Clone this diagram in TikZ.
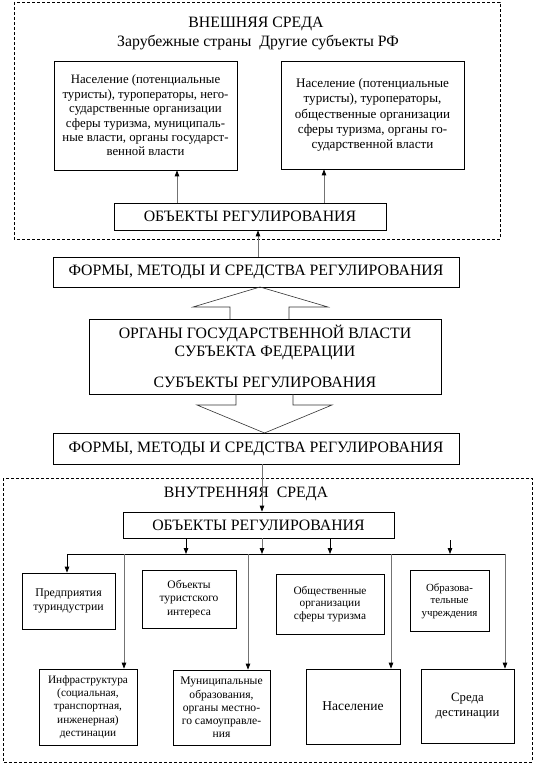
\documentclass[tikz,border=0pt]{standalone}
\usepackage{fontspec}
\setmainfont{Liberation Serif}
\usetikzlibrary{arrows.meta}
\newcommand{\fsz}[2]{\fontsize{#1}{#2}\selectfont}
\begin{document}
\begin{tikzpicture}[x=1pt,y=-1pt,
  box/.style={draw=black, line width=0.7pt, inner sep=0pt, align=center, fill=white},
  big/.style={font=\fsz{15.8}{18}},
  frame/.style={draw=black, line width=0.7pt, dash pattern=on 3pt off 2pt},
  conn/.style={draw=black!55, line width=0.8pt, -{Triangle[length=6pt,width=4.5pt,color=black]}},
  connk/.style={draw=black, line width=0.8pt, -{Triangle[length=6pt,width=4.5pt,color=black]}},
  bus/.style={draw=black, line width=0.8pt},
  blockarrow/.style={draw=black!80, line width=0.6pt}
]
\useasboundingbox (0,0) rectangle (534,768);
\fill[white] (0,0) rectangle (534,768);

% frames
\draw[frame] (14,2) rectangle (500,239);
\draw[frame] (3,478) rectangle (532,762);

% titles
\node[big, inner sep=0pt] (t1) at (256,24) {ВНЕШНЯЯ СРЕДА};
\node[big, inner sep=0pt] (t2) at (258,43) {Зарубежные страны\hspace{0.5em}Другие субъекты РФ};
\node[big, inner sep=0pt] (t3) at (246,494) {ВНУТРЕННЯЯ\hspace{0.5em}СРЕДА};

% top boxes
\node[box, font=\fsz{12.8}{14.4}, minimum width=183pt, minimum height=109pt] (popL) at (145.5,115.5)
  {Население (потенциальные\\туристы), туроператоры, него-\\сударственные организации\\сферы туризма, муниципаль-\\ные власти, органы государст-\\венной власти};
\node[box, font=\fsz{13.1}{15.2}, minimum width=183pt, minimum height=108pt] (popR) at (372.5,115)
  {Население (потенциальные\\туристы), туроператоры,\\общественные организации\\сферы туризма, органы го-\\сударственной власти};
\node[box, big, minimum width=272pt, minimum height=27pt] (objA) at (250,216.5) {ОБЪЕКТЫ РЕГУЛИРОВАНИЯ};

% middle
\node[box, big, minimum width=406pt, minimum height=30pt] (formA) at (256,272) {ФОРМЫ, МЕТОДЫ И СРЕДСТВА РЕГУЛИРОВАНИЯ};
\node[box, big, minimum width=352pt, minimum height=75pt] (organs) at (265,356.5)
  {ОРГАНЫ ГОСУДАРСТВЕННОЙ ВЛАСТИ\\СУБЪЕКТА ФЕДЕРАЦИИ\\[13pt]СУБЪЕКТЫ РЕГУЛИРОВАНИЯ};
\node[box, big, minimum width=406pt, minimum height=31pt] (formB) at (256,448.5) {ФОРМЫ, МЕТОДЫ И СРЕДСТВА РЕГУЛИРОВАНИЯ};

% bottom
\node[box, big, minimum width=271pt, minimum height=26pt] (objB) at (258.5,525) {ОБЪЕКТЫ РЕГУЛИРОВАНИЯ};

\node[box, font=\fsz{11.8}{13.5}, minimum width=93pt, minimum height=56pt] (pred) at (68.5,601) {Предприятия\\туриндустрии};
\node[box, font=\fsz{11.5}{13.5}, minimum width=94pt, minimum height=58pt] (obt) at (189,599) {Объекты\\туристского\\интереса};
\node[box, font=\fsz{11.3}{12.8}, minimum width=108pt, minimum height=60pt] (obsh) at (330,604) {Общественные\\организации\\сферы туризма};
\node[box, font=\fsz{10.9}{12.5}, minimum width=79pt, minimum height=61pt] (obraz) at (449.5,601) {Образова-\\тельные\\учреждения};

\node[box, font=\fsz{11.3}{13.2}, minimum width=98pt, minimum height=76pt] (infra) at (88,707) {Инфраструктура\\(социальная,\\транспортная,\\инженерная)\\дестинации};
\node[box, font=\fsz{11.6}{13.2}, minimum width=97pt, minimum height=75pt] (muni) at (221.5,707.5) {Муниципальные\\образования,\\органы местно-\\го самоуправле-\\ния};
\node[box, font=\fsz{13.5}{15}, minimum width=94pt, minimum height=75pt] (nas) at (353,706.5) {Население};
\node[box, font=\fsz{12.8}{14.5}, minimum width=93pt, minimum height=74pt] (sreda) at (467.5,706) {Среда\\дестинации};

% connectors top
\coordinate (aL) at (177,0);
\coordinate (aR) at (324,0);
\coordinate (aM) at (258,0);
\draw[conn] (objA.north -| aL) -- (popL.south -| aL);
\draw[conn] (objA.north -| aR) -- (popR.south -| aR);
\draw[conn] (formA.north -| aM) -- (objA.south -| aM);

% block arrows
\coordinate (upTip) at (260,287);
\draw[blockarrow] (upTip) -- ++(-67,20) -- ++(37,0) -- ++(0,12);
\draw[blockarrow] (upTip) -- ++(68,20) -- ++(-39,0) -- ++(0,12);
\coordinate (dnTip) at (264.5,433);
\draw[blockarrow] (dnTip) -- ++(-67.5,-28) -- ++(39,0) -- ++(0,-11);
\draw[blockarrow] (dnTip) -- ++(67.5,-28) -- ++(-39,0) -- ++(0,-11);

% connector to bottom objects
\coordinate (bM) at (262,0);
\draw[conn] (formB.south -| bM) -- (objB.north -| bM);

% bus
\coordinate (busL) at (67,554);
\coordinate (busR) at (505,554);
\draw[bus] (busL) -- (busR);
\coordinate (b1) at (186,554);
\coordinate (b2) at (262,554);
\coordinate (b3) at (330,554);
\coordinate (b4) at (450,554);
\coordinate (b4s) at (450,540);
\draw[connk] (objB.south -| b1) -- (b1);
\draw[conn] (objB.south -| b2) -- (b2);
\draw[connk] (objB.south -| b3) -- (b3);
\draw[connk] (b4s) -- (b4);

\coordinate (d1) at (124,554);
\coordinate (d2) at (248,554);
\coordinate (d3) at (391,554);
\draw[connk] (busL) -- (pred.north -| busL);
\draw[conn] (d1) -- (infra.north -| d1);
\draw[conn] (d2) -- (muni.north -| d2);
\draw[conn] (d3) -- (nas.north -| d3);
\draw[conn] (busR) -- (sreda.north -| busR);
\end{tikzpicture}
\end{document}
